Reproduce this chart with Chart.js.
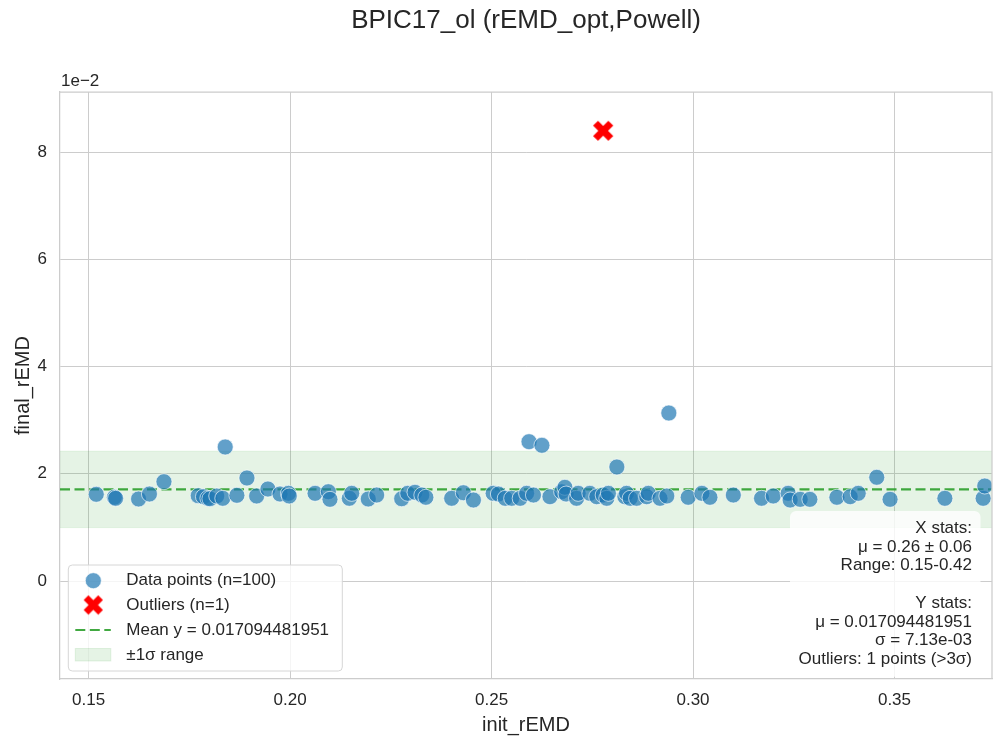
<!DOCTYPE html>
<html lang="en">
<head>
    <meta charset="UTF-8">
    <title>BPIC17_ol (rEMD_opt,Powell)</title>
    <script src="https://cdn.jsdelivr.net/npm/chart.js"></script>
    <style>
        body {
            margin: 0;
            background: #ffffff;
        }
        #chart {
            display: block;
        }
    </style>
</head>
<body>
    <canvas id="chart" width="993" height="742"></canvas>

    <script>
        const initREMD = [
            0.1519, 0.1564, 0.1567, 0.1624, 0.1651, 0.1687, 0.1772, 0.1785, 0.1796, 0.1801,
            0.1818, 0.1833, 0.1839, 0.1868, 0.1893, 0.1917, 0.1945, 0.1975, 0.1996, 0.1998,
            0.2062, 0.2095, 0.2099, 0.2147, 0.2153, 0.2194, 0.2215, 0.2277, 0.2292, 0.2310,
            0.2327, 0.2337, 0.2401, 0.2430, 0.2455, 0.2504, 0.2517, 0.2534, 0.2550, 0.2571,
            0.2587, 0.2593, 0.2604, 0.2625, 0.2645, 0.2674, 0.2682, 0.2685, 0.2711, 0.2715,
            0.2744, 0.2761, 0.2777, 0.2786, 0.2790, 0.2811, 0.2831, 0.2835, 0.2844, 0.2860,
            0.2885, 0.2889, 0.2918, 0.2935, 0.2940, 0.2988, 0.3022, 0.3042, 0.3100, 0.3170,
            0.3199, 0.3236, 0.3241, 0.3266, 0.3290, 0.3357, 0.3390, 0.3410, 0.3456, 0.3489,
            0.3625, 0.3720, 0.3724
        ];
        const finalREMD = [
            0.01618, 0.01562, 0.01543, 0.01530, 0.01623, 0.01853, 0.01591, 0.01573, 0.01543, 0.01535,
            0.01586, 0.01543, 0.02500, 0.01599, 0.01922, 0.01586, 0.01716, 0.01623, 0.01636, 0.01586,
            0.01636, 0.01666, 0.01524, 0.01543, 0.01636, 0.01530, 0.01604, 0.01535, 0.01636, 0.01655,
            0.01604, 0.01562, 0.01543, 0.01647, 0.01511, 0.01636, 0.01623, 0.01543, 0.01543, 0.01543,
            0.01636, 0.02599, 0.01604, 0.02532, 0.01573, 0.01666, 0.01748, 0.01623, 0.01543, 0.01636,
            0.01636, 0.01573, 0.01604, 0.01543, 0.01636, 0.02127, 0.01573, 0.01636, 0.01543, 0.01543,
            0.01573, 0.01636, 0.01543, 0.01586, 0.03134, 0.01562, 0.01636, 0.01562, 0.01604, 0.01543,
            0.01586, 0.01636, 0.01511, 0.01524, 0.01524, 0.01562, 0.01573, 0.01636, 0.01935, 0.01524,
            0.01543, 0.01543, 0.01772
        ];
        const outlierX = [0.2777];
        const outlierY = [0.0840];

        const meanY = 0.017094481951;
        const stdY = 0.00713;

        const xMin = 0.1429, xMax = 0.3742;
        const yMin = -0.01828, yMax = 0.09123;

        const titleText = 'BPIC17_ol (rEMD_opt,Powell)';
        const legendLabels = ['Data points (n=100)', 'Outliers (n=1)', 'Mean y = 0.017094481951', '\u00b11\u03c3 range'];
        const statsLines = [
            'X stats:',
            '\u03bc = 0.26 \u00b1 0.06',
            'Range: 0.15-0.42',
            '',
            'Y stats:',
            '\u03bc = 0.017094481951',
            '\u03c3 = 7.13e-03',
            'Outliers: 1 points (>3\u03c3)'
        ];

        const FONT = '"Liberation Sans", Arial, sans-serif';
        const TEXT = '#262626';
        const GRID = '#cccccc';
        const BLUE = 'rgba(31, 119, 180, 0.7)';
        const MEAN = 'rgba(44, 160, 44, 0.9)';
        const BAND = 'rgba(44, 160, 44, 0.12)';

        // filled "X" marker like matplotlib's
        function makeXMarker(size, color) {
            const c = document.createElement('canvas');
            c.width = c.height = size;
            const g = c.getContext('2d');
            const arm = size * 0.98, thick = size * 0.32;
            g.translate(size / 2, size / 2);
            g.rotate(Math.PI / 4);
            g.fillStyle = color;
            g.fillRect(-arm / 2, -thick / 2, arm, thick);
            g.fillRect(-thick / 2, -arm / 2, thick, arm);
            return c;
        }
        const xMarker = makeXMarker(22, '#ff0000');
        const xMarkerSmall = makeXMarker(21, '#ff0000');

        const points = initREMD.map((x, i) => ({ x: x, y: finalREMD[i] }));
        const outliers = outlierX.map((x, i) => ({ x: x, y: outlierY[i] }));

        const overlay = {
            id: 'overlay',
            afterDraw(chart) {
                const { ctx, chartArea: a } = chart;
                ctx.save();

                // top and right spines
                ctx.strokeStyle = GRID;
                ctx.lineWidth = 1.25;
                ctx.beginPath();
                ctx.moveTo(a.left, a.top);
                ctx.lineTo(a.right, a.top);
                ctx.lineTo(a.right, a.bottom);
                ctx.stroke();

                // title
                ctx.fillStyle = TEXT;
                ctx.font = '26px ' + FONT;
                ctx.textAlign = 'center';
                ctx.textBaseline = 'middle';
                ctx.fillText(titleText, (a.left + a.right) / 2, 21);

                // offset text
                ctx.font = '17px ' + FONT;
                ctx.textAlign = 'left';
                ctx.fillText('1e\u22122', a.left + 1, 81);

                // legend
                const lx = a.left + 8.3, lw = 274, lh = 106;
                const ly = a.bottom - 8 - lh;
                ctx.beginPath();
                ctx.roundRect(lx, ly, lw, lh, 4);
                ctx.fillStyle = 'rgba(255,255,255,0.8)';
                ctx.fill();
                ctx.strokeStyle = '#d6d6d6';
                ctx.lineWidth = 1;
                ctx.stroke();

                const rows = [15.7, 40, 65, 90].map(d => ly + d);
                const mx = lx + 25;
                // circle
                ctx.beginPath();
                ctx.arc(mx, rows[0], 8, 0, Math.PI * 2);
                ctx.fillStyle = BLUE;
                ctx.fill();
                ctx.strokeStyle = 'rgba(255,255,255,0.8)';
                ctx.lineWidth = 0.8;
                ctx.stroke();
                // X
                ctx.drawImage(xMarkerSmall, mx - 10.5, rows[1] - 10.5);
                // dashed line
                ctx.beginPath();
                ctx.setLineDash([10, 4.5]);
                ctx.moveTo(lx + 7, rows[2]);
                ctx.lineTo(lx + 42.5, rows[2]);
                ctx.strokeStyle = MEAN;
                ctx.lineWidth = 2.2;
                ctx.stroke();
                ctx.setLineDash([]);
                // band patch
                ctx.fillStyle = BAND;
                ctx.fillRect(lx + 7, rows[3] - 6.5, 35.5, 12.5);
                ctx.strokeStyle = 'rgba(44,160,44,0.12)';
                ctx.lineWidth = 1;
                ctx.strokeRect(lx + 7, rows[3] - 6.5, 35.5, 12.5);

                ctx.fillStyle = TEXT;
                ctx.font = '17px ' + FONT;
                ctx.textAlign = 'left';
                ctx.textBaseline = 'middle';
                legendLabels.forEach((t, i) => ctx.fillText(t, lx + 58, rows[i]));

                // stats box
                const step = 18.7;
                const rx = a.right - 20;
                const lastY = a.bottom - 19.7;
                const firstY = lastY - step * (statsLines.length - 1);
                let maxW = 0;
                statsLines.forEach(t => { maxW = Math.max(maxW, ctx.measureText(t).width); });
                const pad = 8.5;
                ctx.beginPath();
                ctx.roundRect(rx - maxW - pad, firstY - 9 - pad, maxW + 2 * pad, step * (statsLines.length - 1) + 18 + 2 * pad, 6);
                ctx.fillStyle = 'rgba(255,255,255,0.8)';
                ctx.fill();

                ctx.fillStyle = TEXT;
                ctx.textAlign = 'right';
                statsLines.forEach((t, i) => ctx.fillText(t, rx, firstY + i * step));

                ctx.restore();
            }
        };

        new Chart(document.getElementById('chart'), {
            type: 'scatter',
            data: {
                datasets: [
                    {
                        label: 'Outliers (n=1)',
                        data: outliers,
                        pointStyle: xMarker,
                        pointRadius: 11,
                        order: 0
                    },
                    {
                        label: 'Data points (n=100)',
                        data: points,
                        pointRadius: 8,
                        backgroundColor: BLUE,
                        borderColor: 'rgba(255,255,255,0.8)',
                        borderWidth: 0.8,
                        clip: 0,
                        order: 1
                    },
                    {
                        label: 'Mean y',
                        data: [{ x: xMin, y: meanY }, { x: xMax, y: meanY }],
                        showLine: true,
                        pointRadius: 0,
                        borderColor: MEAN,
                        borderWidth: 2.2,
                        borderDash: [10, 4.5],
                        order: 2
                    },
                    {
                        label: 'band high',
                        data: [{ x: xMin, y: meanY + stdY }, { x: xMax, y: meanY + stdY }],
                        showLine: true,
                        pointRadius: 0,
                        borderColor: 'rgba(44,160,44,0.1)',
                        borderWidth: 1,
                        backgroundColor: BAND,
                        fill: { target: 4 },
                        order: 3
                    },
                    {
                        label: 'band low',
                        data: [{ x: xMin, y: meanY - stdY }, { x: xMax, y: meanY - stdY }],
                        showLine: true,
                        pointRadius: 0,
                        borderColor: 'rgba(44,160,44,0.1)',
                        borderWidth: 1,
                        fill: false,
                        order: 4
                    }
                ]
            },
            options: {
                responsive: false,
                animation: false,
                layout: { autoPadding: false, padding: { top: 92, right: 1, left: 0, bottom: 0 } },
                plugins: {
                    legend: { display: false },
                    tooltip: { enabled: false },
                    title: { display: false }
                },
                scales: {
                    x: {
                        type: 'linear',
                        min: xMin,
                        max: xMax,
                        afterFit(s) {
                            s.height = 63;
                            s.paddingLeft = 0;
                            s.paddingRight = 0;
                        },
                        grid: { color: GRID, lineWidth: 1, drawTicks: false },
                        border: { color: GRID, width: 1.25 },
                        ticks: {
                            stepSize: 0.05,
                            includeBounds: false,
                            padding: 11,
                            color: TEXT,
                            font: { family: FONT, size: 17 },
                            maxRotation: 0,
                            callback: v => v.toFixed(2)
                        },
                        title: {
                            display: true,
                            text: 'init_rEMD',
                            color: TEXT,
                            font: { family: FONT, size: 20 },
                            padding: { top: 4, bottom: 5 }
                        }
                    },
                    y: {
                        type: 'linear',
                        min: yMin,
                        max: yMax,
                        afterFit(s) {
                            s.width = 60;
                            s.paddingTop = 0;
                            s.paddingBottom = 0;
                        },
                        grid: { color: GRID, lineWidth: 1, drawTicks: false },
                        border: { color: GRID, width: 1.25 },
                        ticks: {
                            stepSize: 0.02,
                            includeBounds: false,
                            padding: 13,
                            color: TEXT,
                            font: { family: FONT, size: 17 },
                            callback: v => String(Math.round(v * 100))
                        },
                        title: {
                            display: true,
                            text: 'final_rEMD',
                            color: TEXT,
                            font: { family: FONT, size: 20 },
                            padding: { top: 11, bottom: 4 }
                        }
                    }
                }
            },
            plugins: [overlay]
        });
    </script>
</body>
</html>
